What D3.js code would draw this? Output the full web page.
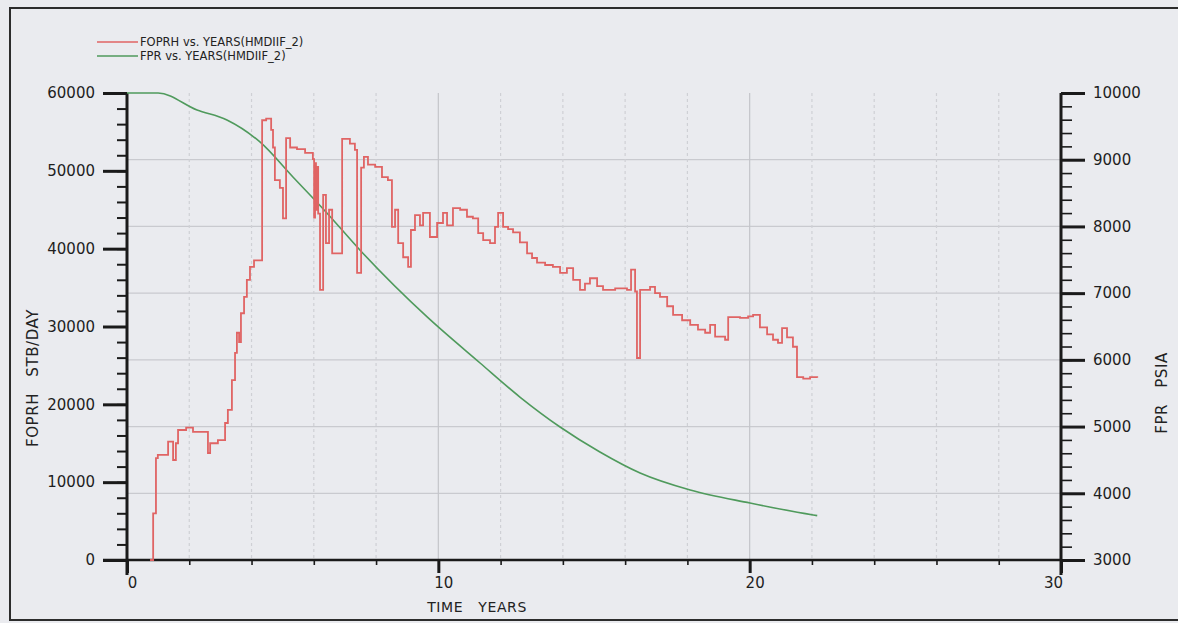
<!DOCTYPE html>
<html>
<head>
<meta charset="utf-8">
<script src="https://cdn.jsdelivr.net/npm/d3@7"></script>
<style>
  html, body { margin: 0; padding: 0; background: #eaebef; }
  svg { display: block; }
  .tick text { font-family: "DejaVu Sans", sans-serif; fill: #1e1e1e; }
  .title { font-family: "DejaVu Sans", sans-serif; fill: #222; letter-spacing: 0.6px; }
</style>
</head>
<body>
<script>
// FOPRH (STB/DAY) vs time in years - stepped field oil rate
var foprhYears = [0.74, 0.84, 0.93, 0.99, 1.32, 1.48, 1.57, 1.64, 1.90, 2.12, 2.60, 2.67, 2.92, 3.15, 3.24,
  3.37, 3.47, 3.53, 3.60, 3.66, 3.76, 3.85, 3.95, 4.08, 4.34, 4.47, 4.63, 4.69, 4.75, 4.91, 5.01, 5.11,
  5.24, 5.46, 5.72, 5.97, 6.01, 6.04, 6.07, 6.10, 6.14, 6.20, 6.30, 6.39, 6.49, 6.59, 6.91, 7.16, 7.32,
  7.39, 7.52, 7.61, 7.74, 7.97, 8.19, 8.38, 8.51, 8.61, 8.71, 8.87, 9.03, 9.12, 9.25, 9.41, 9.51, 9.73,
  9.96, 10.15, 10.28, 10.47, 10.70, 10.92, 11.11, 11.28, 11.44, 11.66, 11.82, 11.92, 12.08, 12.24, 12.40,
  12.62, 12.85, 13.01, 13.17, 13.43, 13.68, 13.91, 14.13, 14.33, 14.55, 14.71, 14.87, 15.10, 15.29, 15.68,
  16.06, 16.19, 16.32, 16.38, 16.48, 16.80, 16.96, 17.12, 17.35, 17.54, 17.83, 18.09, 18.34, 18.57, 18.73,
  18.89, 19.21, 19.31, 19.69, 19.95, 20.11, 20.33, 20.56, 20.75, 20.91, 21.04, 21.20, 21.39, 21.52, 21.72,
  21.94, 22.17];
var foprhRate = [0, 6000, 13100, 13500, 15200, 12850, 15000, 16700, 17000, 16450, 13750, 15000, 15400, 17600, 19300,
  23100, 26600, 29200, 28000, 31700, 33800, 36000, 37650, 38500, 56500, 56700, 55250, 53000, 48800, 47800, 43900, 54200,
  53000, 52800, 52300, 51500, 44000, 51000, 45000, 50500, 44500, 34700, 46900, 40700, 45000, 39400, 54100, 53500, 52700,
  36900, 50400, 51800, 50800, 50500, 49200, 48800, 42800, 45000, 40700, 38900, 37650, 42400, 44300, 43000, 44600, 41500,
  43300, 44600, 43000, 45200, 45000, 44100, 43900, 42000, 41100, 40700, 42800, 44600, 42800, 42500, 42100,
  40800, 39400, 38800, 38200, 37900, 37650, 36900, 37500, 36000, 34700, 35500, 36200, 35200, 34700, 34900,
  34700, 37300, 34500, 25950, 34700, 35100, 34300, 33800, 32600, 31500, 30800, 30200, 29600, 29200, 30200,
  28700, 28300, 31200, 31100, 31300, 31500, 29900, 29000, 28300, 27900, 29800, 28600, 27400, 23500, 23300,
  23500, 23400];

// FPR (PSIA) vs time in years - field pressure
var fprYears = [0, 1.0, 2.25, 3.21, 4.27, 5.33, 6.42, 7.48, 9.64, 11.34, 12.62, 13.91, 15.19, 16.48, 18.09, 20.01, 22.04, 22.17];
var fprPress = [10000, 10000, 9745, 9596, 9266, 8741, 8202, 7647, 6643, 5953, 5443, 4994, 4619, 4304, 4049, 3854, 3675, 3665];

var leftTicks = [0, 10000, 20000, 30000, 40000, 50000, 60000];
var rightTicks = [3000, 4000, 5000, 6000, 7000, 8000, 9000, 10000];
var xTicks = [0, 10, 20, 30];

var legendItems = [
  { name: "FOPRH  vs.  YEARS(HMDIIF_2)", color: "#e06464" },
  { name: "FPR  vs.  YEARS(HMDIIF_2)", color: "#4f9a5c" }
];

var width = 1178, height = 623;
var svg = d3.select("body").append("svg").attr("width", width).attr("height", height);

var x = d3.scaleLinear().domain([0, 30]).range([127, 1061]);
var yL = d3.scaleLinear().domain([0, 60000]).range([560, 93]);
var yR = d3.scaleLinear().domain([3000, 10000]).range([560, 93]);

// frame of the scanned plot
svg.append("path")
  .attr("d", "M1178,8 H10 V620 H1178")
  .attr("fill", "none").attr("stroke", "#2c2c2c").attr("stroke-width", 2);

// grid: horizontal on the pressure axis, vertical every 2 years
svg.append("g").selectAll("line").data(rightTicks.slice(1, -1)).enter()
  .append("line")
  .attr("x1", x(0)).attr("x2", x(30))
  .attr("y1", function (d) { return yR(d); }).attr("y2", function (d) { return yR(d); })
  .attr("stroke", "#c9cacf").attr("stroke-width", 1.2);

svg.append("g").selectAll("line").data(d3.range(2, 30, 2)).enter()
  .append("line")
  .attr("x1", function (d) { return x(d); }).attr("x2", function (d) { return x(d); })
  .attr("y1", yL(60000)).attr("y2", yL(0))
  .attr("stroke", function (d) { return d % 10 == 0 ? "#c4c5ca" : "#cfd0d5"; })
  .attr("stroke-width", 1.2)
  .attr("stroke-dasharray", function (d) { return d % 10 == 0 ? null : "3,3"; });

// axes
function styleAxis(g, w) {
  g.select(".domain").remove();
  g.selectAll(".tick line").attr("stroke", "#1a1a1a").attr("stroke-width", w);
}

svg.append("g").attr("transform", "translate(127,0)")
  .call(d3.axisLeft(yL).tickValues(d3.range(0, 60001, 2000)).tickSize(10).tickFormat(""))
  .call(styleAxis, 2);
svg.append("g").attr("transform", "translate(127,0)")
  .call(d3.axisLeft(yL).tickValues(leftTicks).tickSize(24).tickPadding(8).tickFormat(d3.format("d")))
  .call(styleAxis, 3)
  .selectAll("text").style("font-size", "15px");

svg.append("g").attr("transform", "translate(1061,0)")
  .call(d3.axisRight(yR).tickValues(d3.range(3000, 10001, 200)).tickSize(11).tickFormat(""))
  .call(styleAxis, 1.6);
svg.append("g").attr("transform", "translate(1061,0)")
  .call(d3.axisRight(yR).tickValues(rightTicks).tickSize(24).tickPadding(8).tickFormat(d3.format("d")))
  .call(styleAxis, 3)
  .selectAll("text").style("font-size", "15px");

svg.append("g").attr("transform", "translate(0,560)")
  .call(d3.axisBottom(x).tickValues(d3.range(0, 31, 2)).tickSize(5).tickFormat(""))
  .call(styleAxis, 1.6);
svg.append("g").attr("transform", "translate(0,560)")
  .call(d3.axisBottom(x).tickValues(xTicks).tickSize(13).tickPadding(4).tickFormat(d3.format("d")))
  .call(styleAxis, 3)
  .selectAll("text").style("font-size", "15px")
  .attr("dx", function (d) { return d == 30 ? -8 : 5; });

// axis spines
svg.append("line").attr("x1", 127).attr("x2", 127).attr("y1", 93).attr("y2", 575)
  .attr("stroke", "#1a1a1a").attr("stroke-width", 3);
svg.append("line").attr("x1", 1061).attr("x2", 1061).attr("y1", 93).attr("y2", 575)
  .attr("stroke", "#1a1a1a").attr("stroke-width", 3);
svg.append("line").attr("x1", 103).attr("x2", 1061).attr("y1", 560).attr("y2", 560)
  .attr("stroke", "#1a1a1a").attr("stroke-width", 2.5);

// series
var fpr = fprYears.map(function (t, i) { return [t, fprPress[i]]; });
var foprh = foprhYears.map(function (t, i) { return [t, foprhRate[i]]; });

svg.append("path").datum(fpr)
  .attr("fill", "none").attr("stroke", legendItems[1].color).attr("stroke-width", 1.6)
  .attr("d", d3.line().curve(d3.curveMonotoneX)
    .x(function (d) { return x(d[0]); }).y(function (d) { return yR(d[1]); }));

svg.append("path").datum(foprh)
  .attr("fill", "none").attr("stroke", legendItems[0].color).attr("stroke-width", 1.8)
  .attr("d", d3.line().curve(d3.curveStepAfter)
    .x(function (d) { return x(d[0]); }).y(function (d) { return yL(d[1]); }));

// legend
var legend = svg.append("g").selectAll("g").data(legendItems).enter()
  .append("g").attr("transform", function (d, i) { return "translate(97," + (42 + i * 14) + ")"; });
legend.append("line").attr("x1", 0).attr("x2", 41).attr("y1", 0).attr("y2", 0)
  .attr("stroke", function (d) { return d.color; }).attr("stroke-width", 1.6);
legend.append("text").attr("x", 43).attr("y", 4)
  .style("font-family", "DejaVu Sans, sans-serif").style("font-size", "11.5px").attr("fill", "#222")
  .text(function (d) { return d.name; });

// axis titles
svg.append("text").attr("class", "title").attr("transform", "translate(38,378) rotate(-90)")
  .attr("text-anchor", "middle").style("font-size", "15px")
  .attr("xml:space", "preserve")
  .text("FOPRH   STB/DAY");
svg.append("text").attr("class", "title").attr("transform", "translate(1167,393) rotate(-90)")
  .attr("text-anchor", "middle").style("font-size", "15px")
  .attr("xml:space", "preserve")
  .text("FPR   PSIA");
svg.append("text").attr("class", "title").attr("x", 477).attr("y", 612)
  .attr("text-anchor", "middle").style("font-size", "14px")
  .attr("xml:space", "preserve")
  .text("TIME   YEARS");
</script>
</body>
</html>
